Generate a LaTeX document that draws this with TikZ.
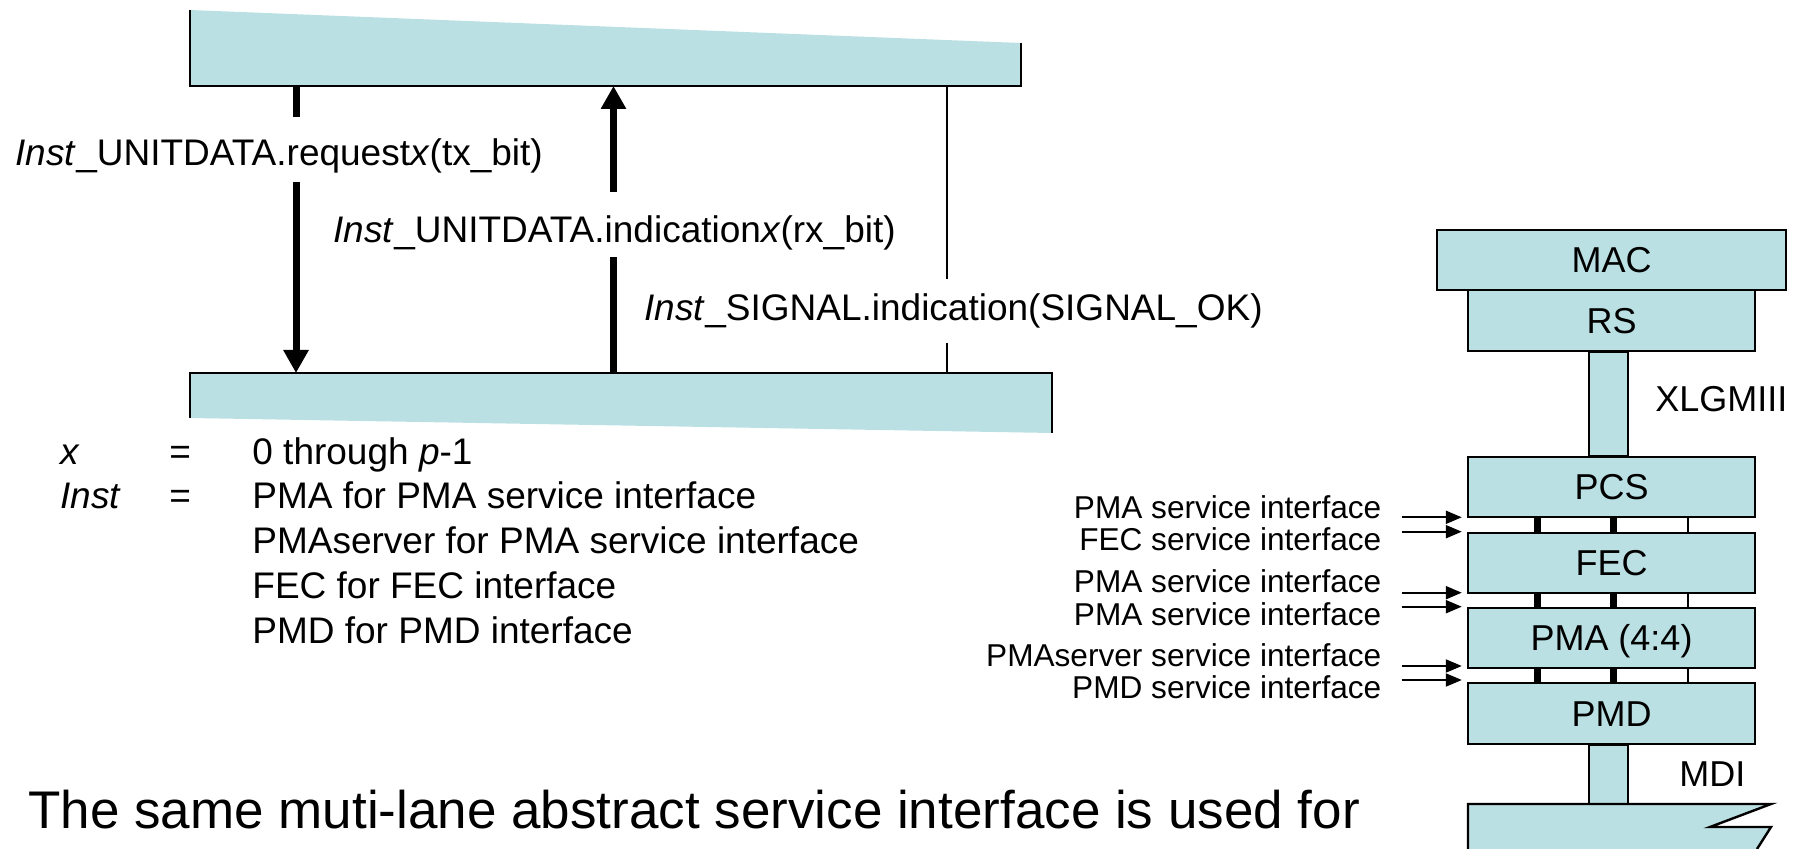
\documentclass[tikz,border=0pt]{standalone}
\usepackage{fontspec}
\setmainfont{Liberation Sans}
\usetikzlibrary{arrows.meta}
\definecolor{band}{RGB}{187,224,227}
\begin{document}
\begin{tikzpicture}[x=0.5pt,y=-0.5pt,
  lbl/.style={font=\fontsize{18.5}{22}\selectfont, inner sep=0pt, anchor=base west},
  smalllbl/.style={font=\fontsize{15.8}{19}\selectfont, inner sep=0pt, anchor=base east},
  bigtext/.style={font=\fontsize{26.5}{31}\selectfont, inner sep=0pt, anchor=base west},
  sidelbl/.style={font=\fontsize{18}{22}\selectfont, inner sep=0pt, anchor=base west},
  stackbox/.style={draw, line width=1.2pt, fill=band, minimum width=143.5pt, minimum height=30pt,
    inner sep=0pt, font=\fontsize{18}{22}\selectfont, text height=12.9pt, text depth=0pt},
  bandedge/.style={line width=1pt},
  bigarrow/.style={line width=3.5pt},
  bigtip/.style={-{Triangle[length=11.5pt,width=12pt]}},
  sarrow/.style={line width=1pt, -{Triangle[length=8pt,width=6.5pt]}, shorten >=2.5pt},
  lanek/.style={line width=3.5pt},
  lanet/.style={line width=1pt},
  barstyle/.style={draw, line width=1.2pt, fill=band},
]
\useasboundingbox (0,0) rectangle (1804,849);

% ---- bands ----
\fill[band] (190,10) -- (1021,43) -- (1021,86) -- (190,86) -- cycle;
\draw[bandedge] (190,10) -- (190,86) -- (1021,86) -- (1021,43);
\fill[band] (190,373) -- (1052,373) -- (1052,433) -- (190,418) -- cycle;
\draw[bandedge] (190,418) -- (190,373) -- (1052,373) -- (1052,433);

% ---- connectors between the bands ----
\coordinate (T1) at (296,86);   \coordinate (T1g) at (296,117);
\coordinate (B1g) at (296,182); \coordinate (B1) at (296,373);
\draw[bigarrow] (T1) -- (T1g);
\draw[bigarrow,bigtip] (B1g) -- (B1);

\coordinate (B2) at (613.5,373);  \coordinate (B2g) at (613.5,257);
\coordinate (T2g) at (613.5,192); \coordinate (T2) at (613.5,86);
\draw[bigarrow] (B2) -- (B2g);
\draw[bigarrow,bigtip] (T2g) -- (T2);

\coordinate (T3) at (946.7,86);   \coordinate (T3g) at (946.7,279);
\coordinate (B3g) at (946.7,343); \coordinate (B3) at (946.7,373);
\draw[bandedge] (T3) -- (T3g);
\draw[bandedge] (B3g) -- (B3);

% ---- labels ----
\node[lbl] (req) at (15,166) {\textit{Inst}\_UNITDATA.request\textit{x}(tx\_bit)};
\node[lbl] (ind) at (333,243) {\textit{Inst}\_UNITDATA.indication\textit{x}(rx\_bit)};
\node[lbl] (sig) at (644,321) {\textit{Inst}\_SIGNAL.indication(SIGNAL\_OK)};

% ---- legend ----
\node[lbl] (lx) at (60,465) {\textit{x}};
\node[lbl] (leq1) at (169,465) {=};
\node[lbl] (lv1) at (252,465) {0 through \textit{p}-1};
\node[lbl] (linst) at (60,509) {\textit{Inst}};
\node[lbl] (leq2) at (169,509) {=};
\node[lbl] (lv2) at (252,509) {PMA for PMA service interface};
\node[lbl] (lv3) at (252,553) {PMAserver for PMA service interface};
\node[lbl] (lv4) at (252,598) {FEC for FEC interface};
\node[lbl] (lv5) at (252,643) {PMD for PMD interface};

\node[bigtext] (bottom) at (28,828) {The same muti-lane abstract service interface is used for};

% ---- stack ----
\node[stackbox, minimum width=174.5pt] (MAC) at (1611.5,260) {MAC};
\node[stackbox, minimum height=30.5pt] (RS) at (1611.5,320.5) {RS};
\node[stackbox] (PCS) at (1611.5,487) {PCS};
\node[stackbox] (FEC) at (1611.5,563) {FEC};
\node[stackbox] (PMA) at (1611.5,638) {PMA (4:4)};
\node[stackbox, minimum height=30.5pt] (PMD) at (1611.5,713.5) {PMD};

\draw[barstyle] ([xshift=-11.25pt]RS.south) rectangle ([xshift=8.25pt]PCS.north);
\coordinate (MDItop) at (1611.5,804);
\draw[barstyle] ([xshift=-11.25pt]PMD.south) rectangle ([xshift=8.25pt]MDItop);

\node[sidelbl] (xlg) at (1655,412) {XLGMIII};
\node[sidelbl] (mdi) at (1679,786) {MDI};

% medium
\fill[band] (1468,849) -- (1468,804) -- (1771,804) -- (1710,827) -- (1771,827) -- (1757,849) -- cycle;
\draw[line width=1.2pt] (1468,849) -- (1468,804) -- (1771,804) -- (1710,827) -- (1771,827) -- (1757,849);

% lanes
\foreach \u/\l in {PCS/FEC,FEC/PMA,PMA/PMD}{
  \draw[lanek] ([xshift=-37.25pt]\u.south) -- ([xshift=-37.25pt]\l.north);
  \draw[lanek] ([xshift=0.75pt]\u.south) -- ([xshift=0.75pt]\l.north);
  \draw[lanet] ([xshift=38.25pt]\u.south) -- ([xshift=38.25pt]\l.north);
}

% interface labels and arrows
\node[smalllbl] (i1) at (1381.7,519) {PMA service interface};
\node[smalllbl] (i2) at (1381.7,551) {FEC service interface};
\node[smalllbl] (i3) at (1381.7,593) {PMA service interface};
\node[smalllbl] (i4) at (1381.7,625) {PMA service interface};
\node[smalllbl] (i5) at (1381.7,666.5) {PMAserver service interface};
\node[smalllbl] (i6) at (1381.7,698) {PMD service interface};

\coordinate (a1) at (1401.7,517.3);
\coordinate (a2) at (1401.7,531.7);
\coordinate (a3) at (1401.7,592.7);
\coordinate (a4) at (1401.7,606.7);
\coordinate (a5) at (1401.7,666);
\coordinate (a6) at (1401.7,680);
\draw[sarrow] (a1) -- (a1 -| PCS.west);
\draw[sarrow] (a2) -- (a2 -| FEC.west);
\draw[sarrow] (a3) -- (a3 -| FEC.west);
\draw[sarrow] (a4) -- (a4 -| PMA.west);
\draw[sarrow] (a5) -- (a5 -| PMA.west);
\draw[sarrow] (a6) -- (a6 -| PMD.west);
\end{tikzpicture}
\end{document}
